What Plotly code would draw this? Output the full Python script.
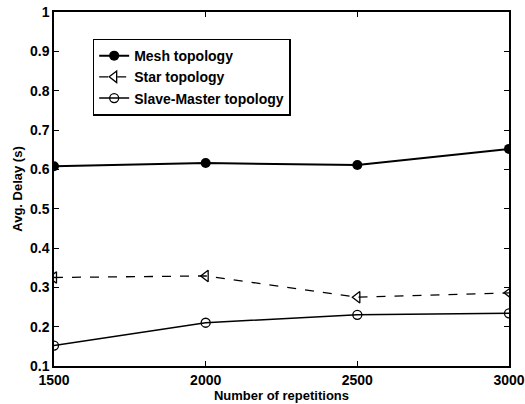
import plotly.graph_objects as go

x_vals = [1500, 2000, 2500, 3000]
mesh = [0.608, 0.616, 0.611, 0.652]
star = [0.325, 0.329, 0.275, 0.286]
slave = [0.152, 0.210, 0.230, 0.234]

fig = go.Figure()
fig.add_trace(go.Scatter(x=x_vals, y=mesh, name="Mesh topology", mode="lines+markers",
                         line=dict(color="black", width=2),
                         marker=dict(symbol="circle", size=10, color="black")))
fig.add_trace(go.Scatter(x=x_vals, y=star, name="Star topology", mode="lines+markers",
                         line=dict(color="black", width=1.3, dash="dash"),
                         marker=dict(symbol="triangle-left-open", size=10, color="black", line=dict(width=1.3))))
fig.add_trace(go.Scatter(x=x_vals, y=slave, name="Slave-Master topology", mode="lines+markers",
                         line=dict(color="black", width=1.5),
                         marker=dict(symbol="circle-open", size=9, color="black", line=dict(width=1.3))))

axis_common = dict(showline=True, linecolor="black", linewidth=1.5, mirror="ticks",
                   ticks="inside", ticklen=5, tickcolor="black", showgrid=False, zeroline=False,
                   automargin=False,
                   tickfont=dict(family="Liberation Sans", size=14, color="black", weight="bold"))

fig.update_layout(
    width=525, height=404,
    margin=dict(l=54, r=16, t=12, b=38),
    paper_bgcolor="white", plot_bgcolor="white",
    font=dict(family="Liberation Sans", color="black"),
    xaxis=dict(range=[1500, 3000], tickvals=[1500, 2000, 2500, 3000],
               title=dict(text="<b>Number of repetitions</b>", font=dict(size=13), standoff=0),
               **axis_common),
    yaxis=dict(range=[0.1, 1], tickvals=[0.1, 0.2, 0.3, 0.4, 0.5, 0.6, 0.7, 0.8, 0.9, 1],
               ticktext=["0.1", "0.2", "0.3", "0.4", "0.5", "0.6", "0.7", "0.8", "0.9", "1"],
               title=dict(text="<b>Avg. Delay (s)</b>", font=dict(size=13), standoff=4),
               **axis_common),
    legend=dict(x=0.085, y=0.925, xanchor="left", yanchor="top",
                bordercolor="black", borderwidth=1.5, bgcolor="white",
                font=dict(family="Liberation Sans", size=14, color="black", weight="bold"),
                tracegroupgap=0, itemwidth=30),
    showlegend=True,
)

fig.write_html("out.html")
